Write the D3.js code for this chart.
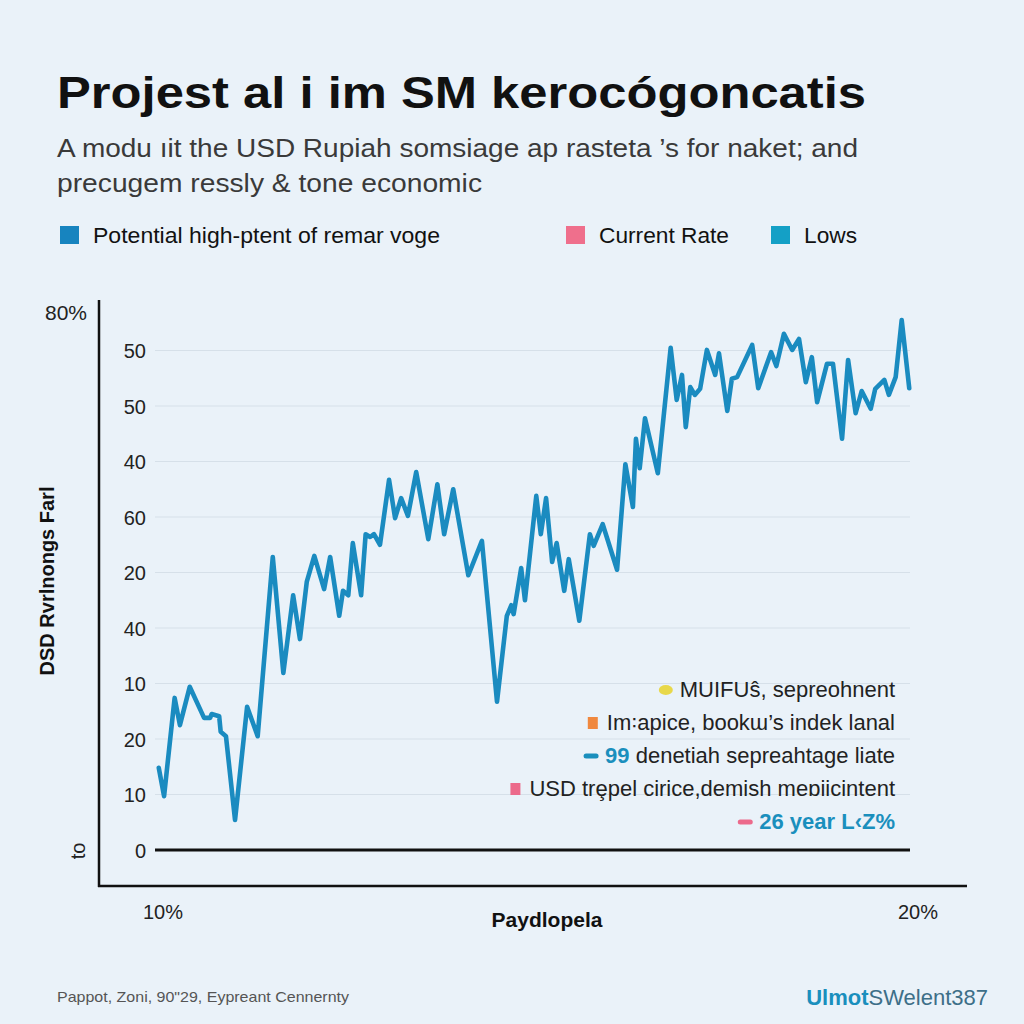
<!DOCTYPE html>
<html><head><meta charset="utf-8">
<script src="https://cdn.jsdelivr.net/npm/d3@7"></script>
<style>
html,body{margin:0;padding:0;background:#eaf2f9;}
svg{display:block;}
text{font-family:"Liberation Sans",Arial,sans-serif;}
</style></head>
<body><svg id="c" width="1024" height="1024"></svg>
<script>
// ---- data ----
const seriesT = [0.5,1.2,2.6,3.3,4.6,6.5,7.3,7.5,8.5,8.7,9.4,10.6,12.2,13.6,15.6,17.0,18.3,19.2,20.1,21.1,22.4,23.2,24.4,24.9,25.6,26.2,27.3,27.9,28.5,29.0,29.8,31.0,31.8,32.6,33.5,34.6,36.2,37.4,38.3,39.5,41.5,43.3,45.3,46.6,47.2,47.5,48.5,49.0,50.5,51.1,51.8,52.6,53.2,54.2,54.8,56.2,57.6,58.1,59.3,61.2,62.3,63.3,63.7,64.2,64.9,66.6,68.3,69.1,69.8,70.3,70.9,71.5,72.2,73.1,74.2,74.7,75.8,76.4,77.1,79.1,79.9,81.6,82.3,83.3,84.4,85.3,86.2,87.0,87.7,89.0,89.8,91.0,91.8,92.8,93.6,94.8,95.4,96.6,97.2,98.1,98.9,99.9];
const seriesV = [14.8,9.7,27.4,22.5,29.4,23.8,23.8,24.5,24.1,21.3,20.5,5.4,25.8,20.5,52.8,31.9,45.9,38.0,48.3,53.0,47.0,52.8,42.2,46.7,45.9,55.3,45.9,56.9,56.4,56.9,55.0,66.7,59.8,63.4,60.2,68.1,56.0,65.9,56.9,65.0,49.5,55.7,26.7,42.2,44.1,42.5,50.8,45.0,63.8,56.9,63.4,51.9,55.3,46.7,52.4,41.3,56.9,54.8,58.7,50.5,69.5,61.8,74.1,68.8,77.8,67.9,90.5,81.1,85.6,76.2,83.4,82.0,83.1,90.1,85.6,89.5,79.1,84.9,85.2,91.0,83.2,89.7,87.2,93.0,90.1,92.1,84.3,88.8,80.7,87.6,87.6,74.1,88.3,78.7,82.7,79.5,83.1,84.7,82.0,85.2,95.5,83.2];
const yTickValues = [0,10,20,30,40,50,60,70,80,90];
const yTickLabels = ["0","10","20","10","40","20","60","40","50","50"];
const xTickLabels = ["10%","20%"];
const legendItems = ["Potential high-ptent of remar voge","Current Rate","Lows"];
const legendColors = ["#1784bf","#ef6f8c","#14a0c6"];
const annotations = [
  {marker:"dot", color:"#e8d84a", bold:"", text:"MUIFUŝ, sepreohnent"},
  {marker:"sq", color:"#f0883e", bold:"", text:"Im꞉apice, bookɯ’s indek lanal"},
  {marker:"dash", color:"#1a8fbd", bold:"99", text:" denetiah sepreahtage liate"},
  {marker:"sq", color:"#ec6a8b", bold:"", text:"USD trȩpel cirice,demish meɒiicintent"},
  {marker:"dash", color:"#ec6a8b", bold:"26 year L‹Z%", text:""}
];

const svg = d3.select("#c");
svg.append("rect").attr("width",1024).attr("height",1024).attr("fill","#eaf2f9");

// title
svg.append("text").attr("x",57).attr("y",108).attr("font-size",45).attr("font-weight","bold")
  .attr("fill","#111").attr("textLength",809).attr("lengthAdjust","spacingAndGlyphs")
  .text("Projest al i im SM kerocógoncatis");
svg.append("text").attr("x",57).attr("y",157).attr("font-size",26).attr("fill","#3a3a3a")
  .attr("textLength",801).attr("lengthAdjust","spacingAndGlyphs")
  .text("A modu ıit the USD Rupiah somsiage ap rasteta ’s for naket; and");
svg.append("text").attr("x",57).attr("y",192).attr("font-size",26).attr("fill","#3a3a3a")
  .attr("textLength",425).attr("lengthAdjust","spacingAndGlyphs")
  .text("precugem ressly & tone economic");

// legend
const legX = [60,566,771], legW=[347,130,53];
legendItems.forEach((d,i)=>{
  svg.append("rect").attr("x",legX[i]).attr("y",226).attr("width",19).attr("height",18).attr("fill",legendColors[i]);
  svg.append("text").attr("x",legX[i]+33).attr("y",243).attr("font-size",22).attr("font-family","Roboto").attr("font-weight",500)
    .attr("fill","#111").attr("textLength",legW[i]).attr("lengthAdjust","spacingAndGlyphs").text(d);
});

// scales
const x = d3.scaleLinear().domain([0,100]).range([155,910]);
const y = d3.scaleLinear().domain([0,90]).range([850,350.5]);

// grid
svg.append("g").selectAll("line").data(yTickValues.slice(1)).join("line")
  .attr("x1",155).attr("x2",910).attr("y1",d=>y(d)).attr("y2",d=>y(d))
  .attr("stroke","#d6e0e9").attr("stroke-width",1.2);

// y axis labels
const yAxis = d3.axisLeft(y).tickValues(yTickValues).tickSize(0).tickPadding(0)
  .tickFormat((d,i)=>yTickLabels[i]);
const gy = svg.append("g").attr("transform","translate(146,0)").call(yAxis);
gy.select(".domain").remove();
gy.selectAll("text").attr("font-size",20).attr("font-family","Roboto").attr("fill","#222").attr("dy","0.35em");

// zero line
svg.append("line").attr("x1",155).attr("x2",910).attr("y1",y(0)).attr("y2",y(0)).attr("stroke","#111").attr("stroke-width",3);

// frame axes
svg.append("line").attr("x1",99).attr("x2",99).attr("y1",300).attr("y2",887).attr("stroke","#111").attr("stroke-width",2.5);
svg.append("line").attr("x1",98).attr("x2",967).attr("y1",886).attr("y2",886).attr("stroke","#111").attr("stroke-width",2.5);

svg.append("text").attr("x",87).attr("y",320).attr("text-anchor","end").attr("font-size",21).attr("font-family","Roboto").attr("fill","#222").text("80%");

// y label
svg.append("text").attr("transform","translate(54,581) rotate(-90)").attr("text-anchor","middle")
  .attr("font-size",20).attr("font-weight","bold").attr("font-family","Roboto").attr("fill","#111").text("DSD Rvrlnongs Farl");
svg.append("text").attr("transform","translate(85,851) rotate(-90)").attr("text-anchor","middle")
  .attr("font-size",20).attr("font-family","Roboto").attr("fill","#222").text("to");

// x labels
const xl = d3.scalePoint().domain(xTickLabels).range([163,918]);
svg.append("g").selectAll("text").data(xTickLabels).join("text")
  .attr("x",d=>xl(d)).attr("y",919).attr("text-anchor","middle").attr("font-size",20).attr("font-family","Roboto").attr("fill","#222").text(d=>d);
svg.append("text").attr("x",547).attr("y",927).attr("text-anchor","middle").attr("font-size",21).attr("font-weight","bold")
  .attr("font-family","Roboto").attr("fill","#111").text("Paydlopela");

// line
const pts = seriesT.map((t,i)=>[t,seriesV[i]]);
svg.append("path").datum(pts).attr("fill","none").attr("stroke","#1a8bc0").attr("stroke-width",4.6)
  .attr("stroke-linejoin","round").attr("stroke-linecap","round")
  .attr("d",d3.line().x(d=>x(d[0])).y(d=>y(d[1])));

// annotations
const annY = [697,730,763,796,829];
annotations.forEach((a,i)=>{
  const g = svg.append("text").attr("x",895).attr("y",annY[i]).attr("text-anchor","end").attr("font-size",22)
    .attr("font-family","Roboto").attr("fill","#222");
  if(a.bold) g.append("tspan").attr("font-weight","bold").attr("fill","#1a8fbd").text(a.bold);
  if(a.text) g.append("tspan").text(a.text);
  const w = g.node().getComputedTextLength();
  const mx = 895 - w - 14;
  const cy = annY[i]-7;
  if(a.marker==="dot") svg.append("ellipse").attr("cx",mx).attr("cy",cy).attr("rx",7).attr("ry",5).attr("fill",a.color);
  else if(a.marker==="sq") svg.append("rect").attr("x",mx-5).attr("y",cy-6).attr("width",10).attr("height",12).attr("fill",a.color);
  else svg.append("line").attr("x1",mx-5).attr("x2",mx+5).attr("y1",cy).attr("y2",cy).attr("stroke",a.color).attr("stroke-width",5).attr("stroke-linecap","round");
});

// footer
svg.append("text").attr("x",57).attr("y",1002).attr("font-size",15).attr("fill","#555").attr("font-family","Roboto")
  .attr("textLength",292).attr("lengthAdjust","spacingAndGlyphs").text("Pappot, Zoni, 90\"29, Eypreant Cennernty");
const ft = svg.append("text").attr("x",988).attr("y",1005).attr("text-anchor","end").attr("font-size",22).attr("font-family","Roboto");
ft.append("tspan").attr("font-weight","bold").attr("fill","#1a8fbd").text("Ulmot");
ft.append("tspan").attr("fill","#3d6f88").text("SWelent387");
</script></body></html>
